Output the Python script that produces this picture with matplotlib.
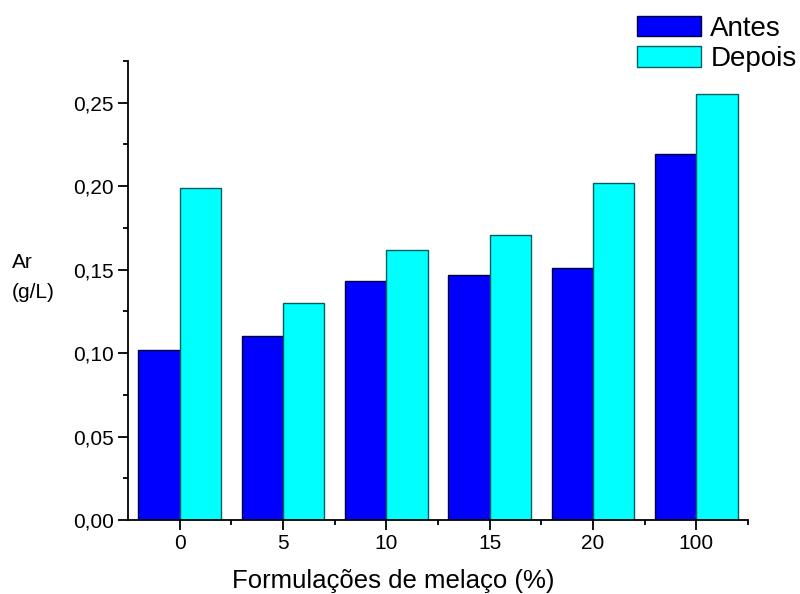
import numpy as np
import matplotlib.pyplot as plt
from matplotlib.ticker import FixedLocator, FuncFormatter, MultipleLocator

plt.rcParams['font.family'] = ['Liberation Sans', 'DejaVu Sans']

formulacoes = ['0', '5', '10', '15', '20', '100']
antes = [0.102, 0.110, 0.143, 0.147, 0.151, 0.219]
depois = [0.199, 0.130, 0.162, 0.171, 0.202, 0.255]

x = np.arange(len(formulacoes))
w = 0.4

fig = plt.figure(figsize=(8, 5.94), dpi=100)
ax = fig.add_axes([0.16, 0.1246, 0.775, 0.7727])

ax.bar(x - w / 2, antes, width=w, color='#0000ff', edgecolor='#00003a',
       linewidth=1.0, label='Antes')
ax.bar(x + w / 2, depois, width=w, color='#00ffff', edgecolor='#006060',
       linewidth=1.0, label='Depois')

ax.set_xlim(-0.5, 5.5)
ax.set_ylim(0, 0.275)

ax.set_xticks(x)
ax.set_xticklabels(formulacoes)
ax.xaxis.set_minor_locator(FixedLocator(np.arange(0.5, 6, 1)))
ax.yaxis.set_major_locator(MultipleLocator(0.05))
ax.yaxis.set_minor_locator(MultipleLocator(0.025))
ax.yaxis.set_major_formatter(FuncFormatter(lambda v, p: f'{v:.2f}'.replace('.', ',')))

for s in ['top', 'right']:
    ax.spines[s].set_visible(False)
for s in ['left', 'bottom']:
    ax.spines[s].set_linewidth(1.3)

ax.tick_params(which='major', length=7, width=1.3, labelsize=15, pad=3)
ax.tick_params(which='minor', length=3.5, width=1.3)

# eixos: rótulos
fig.text(0.491, 6 / 594, 'Formulações de melaço (%)', fontsize=18.5,
         ha='center', va='baseline')
fig.text(0.015, 1 - 268 / 594, 'Ar', fontsize=15, ha='left', va='baseline')
fig.text(0.015, 1 - 298 / 594, '(g/L)', fontsize=15, ha='left', va='baseline')

ax.legend(loc='upper left', bbox_to_anchor=(0.796, 1 - 16 / 594), bbox_transform=fig.transFigure,
          frameon=False, fontsize=20, handlelength=2.3, handleheight=0.75,
          handletextpad=0.35, labelspacing=0.15, borderpad=0, borderaxespad=0)

fig.savefig('out.png', dpi=100)
